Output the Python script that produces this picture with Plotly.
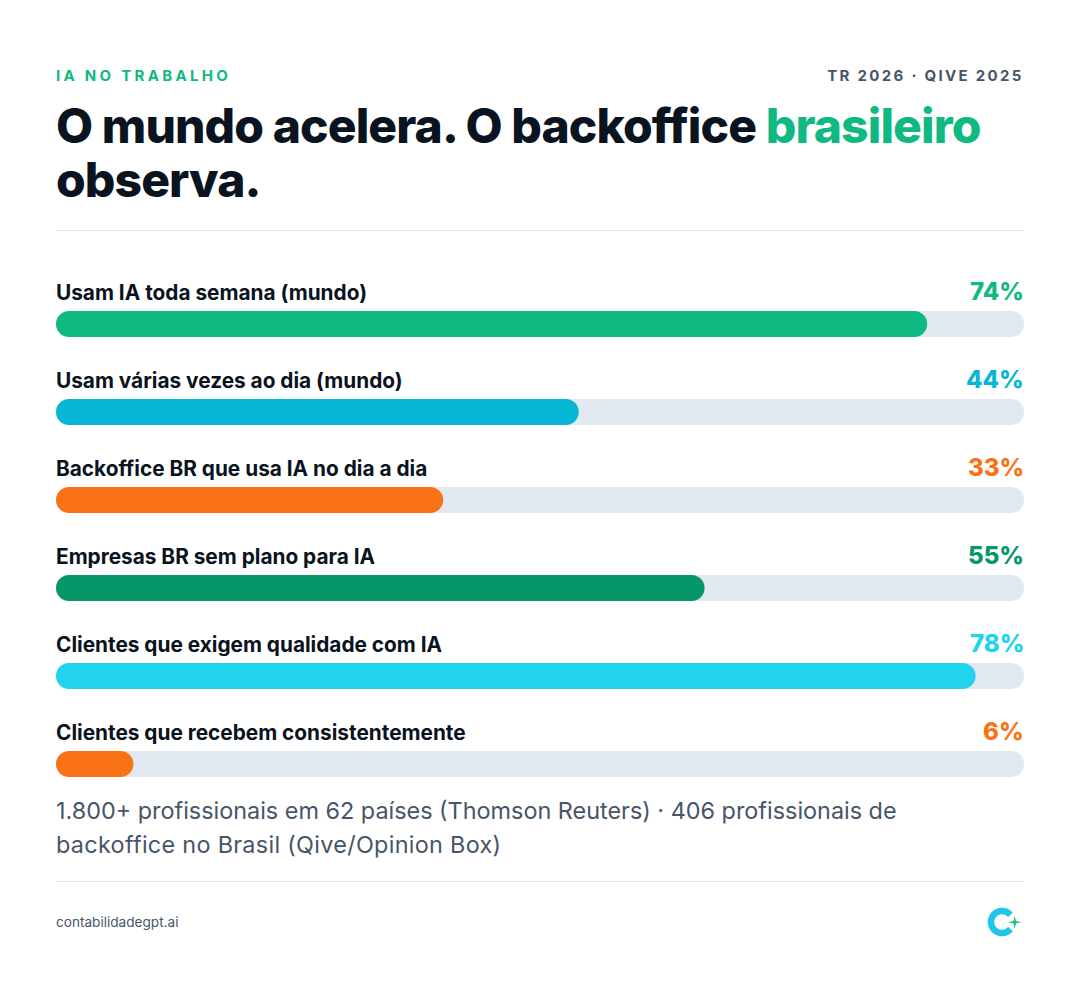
import math
import plotly.graph_objects as go

W, H = 1080, 1006
FONT = "Inter"

categories = ["Usam IA toda semana (mundo)", "Usam várias vezes ao dia (mundo)",
              "Backoffice BR que usa IA no dia a dia", "Empresas BR sem plano para IA",
              "Clientes que exigem qualidade com IA", "Clientes que recebem consistentemente"]
value_labels = ["74%", "44%", "33%", "55%", "78%", "6%"]
# filled share of the track as drawn (the bars are not scaled 1:1 with the labels)
fill_widths = [90, 54, 40, 67, 95, 8]
track_widths = [100, 100, 100, 100, 100, 100]
bar_bases = [0, 0, 0, 0, 0, 0]
bar_colors = ["#10B981", "#06B6D4", "#F97316", "#059669", "#22D3EE", "#F97316"]

DARK = "#0A1320"
GREY = "#475569"
GREEN = "#10B981"
TRACK = "#E2E8F0"
RULE = "#E6E8F2"
BAR_H = 26 / 88


def px(x):
    return x / W


def py(y):
    return 1 - y / H


def page_text(x, y, text, size, color, weight=400, anchor="left"):
    # annotations carry a 2px pad, take it back so the text sits on the margin
    x = x - 2 if anchor == "left" else x + 2
    return dict(x=px(x), y=py(y), xref="paper", yref="paper", text=text, showarrow=False,
                xanchor=anchor, yanchor="middle", align=anchor,
                font=dict(family=FONT, size=size, color=color, weight=weight))


fig = go.Figure()
# an explicit base makes cornerradius round both ends of the bar
fig.add_trace(go.Bar(y=categories, x=track_widths, base=bar_bases, orientation="h", width=BAR_H,
                     marker=dict(color=TRACK, cornerradius=13, line_width=0), hoverinfo="skip"))
fig.add_trace(go.Bar(y=categories, x=fill_widths, base=bar_bases, orientation="h", width=BAR_H,
                     marker=dict(color=bar_colors, cornerradius=13, line_width=0), hoverinfo="skip"))

notes = [
    page_text(56, 75, "IA NO TRABALHO", 15, GREEN, 700),
    page_text(1024, 75, "TR 2026 · QIVE 2025", 15, GREY, 700, "right"),
    page_text(56, 126, f'O mundo acelera. O backoffice <span style="color:{GREEN}">brasileiro</span>', 48, DARK, 800),
    page_text(56, 179, "observa.", 48, DARK, 800),
    page_text(56, 810, "1.800+ profissionais em 62 países (Thomson Reuters) · 406 profissionais de", 23.4, GREY),
    page_text(56, 844, "backoffice no Brasil (Qive/Opinion Box)", 23.4, GREY),
    page_text(56, 922, "contabilidadegpt.ai", 13.6, GREY),
]
for name, label, color in zip(categories, value_labels, bar_colors):
    notes.append(dict(x=0, y=name, xref="x", yref="y", text=name, showarrow=False, xanchor="left",
                      yanchor="middle", xshift=-2, yshift=32,
                      font=dict(family=FONT, size=20.8, color=DARK, weight=700)))
    notes.append(dict(x=100, y=name, xref="x", yref="y", text=label, showarrow=False, xanchor="right",
                      yanchor="middle", xshift=2, yshift=33,
                      font=dict(family=FONT, size=24, color=color, weight=800)))

# rules and the small logo in the footer
shapes = []
for rule_y in [230.5, 881.5]:
    shapes.append(dict(type="line", xref="paper", yref="paper", x0=px(56), x1=px(1024),
                       y0=py(rule_y), y1=py(rule_y), line=dict(color=RULE, width=1)))

ring = []
for deg in range(40, 325, 5):
    a = math.radians(deg)
    ring.append((px(1002 + 11 * math.cos(a)), py(922 + 11 * math.sin(a))))
ring_path = "M" + " L".join(f"{a:.5f},{b:.5f}" for a, b in ring)
shapes.append(dict(type="path", xref="paper", yref="paper", path=ring_path,
                   line=dict(color="#1CC8E6", width=6.5)))
star = [(0, -6.5), (1.3, -1.3), (6.5, 0), (1.3, 1.3), (0, 6.5), (-1.3, 1.3), (-6.5, 0), (-1.3, -1.3)]
star_path = "M" + " L".join(f"{px(1014.7 + a):.5f},{py(922.3 + b):.5f}" for a, b in star) + " Z"
shapes.append(dict(type="path", xref="paper", yref="paper", path=star_path,
                   fillcolor="#22C38E", line_width=0))

fig.update_layout(
    width=W, height=H, barmode="overlay", showlegend=False,
    margin=dict(l=0, r=0, t=0, b=0), paper_bgcolor="white", plot_bgcolor="white",
    xaxis=dict(domain=[px(56), px(1024)], range=[0, 100], visible=False, fixedrange=True),
    yaxis=dict(domain=[py(808), py(280)], range=[5.5, -0.5], visible=False, fixedrange=True,
               type="category", categoryorder="array", categoryarray=categories),
    annotations=notes, shapes=shapes,
)

# plotly has no letter spacing for text, so set it on the drawn annotations
post = """
document.body.style.margin = '0';
var spacing = {'IA NO': '3.3px', 'TR 20': '2.3px', 'O mun': '-0.9px', 'obser': '-0.9px', 'backo': '0.3px'};
document.querySelectorAll('.annotation-text').forEach(function (t) {
    var s = spacing[t.textContent.slice(0, 5)];
    if (s) t.style.letterSpacing = s;
});
"""
fig.write_html("out.html", config=dict(displayModeBar=False), post_script=post)
